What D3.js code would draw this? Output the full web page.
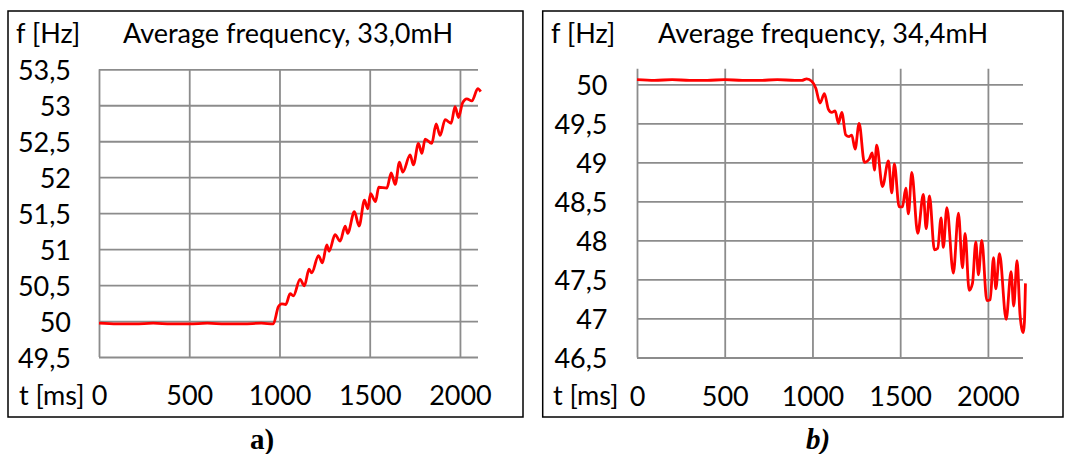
<!DOCTYPE html>
<html><head><meta charset="utf-8">
<script src="https://cdn.jsdelivr.net/npm/d3@7/dist/d3.min.js"></script>
<style>html,body{margin:0;padding:0;background:#fff;} svg{display:block;}</style>
</head><body>
<svg id="c" width="1065" height="454"></svg>
<script>
// ---------- DATA ----------
const titleA = "Average frequency, 33,0mH";
const titleB = "Average frequency, 34,4mH";
const captionA = "a)";
const captionB = "b)";
const yUnit = "f [Hz]";
const xUnit = "t [ms]";

const xTicksA = [0, 500, 1000, 1500, 2000];
const yTicksA = [49.5, 50, 50.5, 51, 51.5, 52, 52.5, 53, 53.5];
const xTicksB = [0, 500, 1000, 1500, 2000];
const yTicksB = [46.5, 47, 47.5, 48, 48.5, 49, 49.5, 50];

const tA = [0,100,200,300,400,500,600,700,800,900,966,994,1013,1035,1059,1077,1114,1138,1164,1179,1216,1238,1262,1275,1308,1336,1364,1378,1415,1441,1471,1489,1505,1532,1550,1595,1619,1641,1665,1683,1724,1742,1770,1789,1807,1844,1868,1890,1918,1951,1973,1992,2014,2038,2066,2099,2115];
const fA = [49.97,49.96,49.96,49.97,49.96,49.96,49.97,49.96,49.96,49.97,49.96,50.20,50.24,50.23,50.38,50.35,50.58,50.49,50.72,50.67,50.91,50.81,51.06,50.97,51.20,51.11,51.32,51.22,51.52,51.32,51.68,51.56,51.77,51.66,51.86,51.85,52.06,51.90,52.21,52.07,52.31,52.17,52.47,52.33,52.53,52.47,52.74,52.58,52.80,52.75,52.98,52.83,53.03,53.09,53.06,53.23,53.19];

const tB = [0,100,200,300,400,500,600,700,800,900,939,967,996,1019,1043,1068,1091,1110,1129,1148,1167,1190,1209,1224,1243,1266,1296,1323,1341,1353,1366,1399,1433,1452,1467,1494,1513,1532,1547,1566,1600,1632,1648,1667,1695,1714,1733,1746,1766,1803,1832,1855,1870,1893,1912,1931,1946,1965,1994,2013,2032,2045,2066,2104,2132,2147,2166,2183,2195,2202,2208,2214];
const fB = [50.06,50.05,50.06,50.05,50.05,50.06,50.05,50.05,50.06,50.05,50.05,50.07,50.04,49.95,49.76,49.88,49.68,49.64,49.66,49.50,49.64,49.35,49.33,49.35,49.17,49.50,49.00,49.04,49.12,48.90,49.22,48.69,49.02,48.61,48.98,48.43,48.43,48.67,48.34,48.87,48.09,48.59,48.15,48.57,47.88,47.90,48.29,47.91,48.42,47.58,48.35,47.65,48.09,47.36,47.45,47.98,47.56,48.00,47.23,47.24,47.78,47.38,47.83,46.99,47.60,47.16,47.74,47.05,46.85,46.82,46.95,47.45];

// ---------- LAYOUT ----------
const FONT = "Lato, 'Open Sans', sans-serif";
const FS = 27;
const panels = [
  { t: tA, f: fA, xT: xTicksA, yT: yTicksA, title: titleA, cap: captionA, capItalic: false,
    frame: [8, 11, 523, 417], px0: 99, px1: 478, pyTop: 69.3, pyBot: 357,
    xDom: [0, 2100], yDom: [49.5, 53.5], titleX: 288, unitX: 16, yLabX: 71, xUnitX: 19, capX: 262 },
  { t: tB, f: fB, xT: xTicksB, yT: yTicksB, title: titleB, cap: captionB, capItalic: true,
    frame: [542.7, 11, 1063, 417], px0: 637, px1: 1023, pyTop: 68.7, pyBot: 357.5,
    xDom: [0, 2200], yDom: [46.5, 50.2], titleX: 823, unitX: 551, yLabX: 607.5, xUnitX: 553, capX: 818 }
];

const svg = d3.select("#c");
const fmt = d => String(d).replace(".", ",");

panels.forEach(p => {
  const g = svg.append("g");
  const [fx0, fy0, fx1, fy1] = p.frame;
  g.append("rect").attr("x", fx0).attr("y", fy0).attr("width", fx1 - fx0).attr("height", fy1 - fy0)
    .attr("fill", "none").attr("stroke", "#000").attr("stroke-width", 1.5);

  const x = d3.scaleLinear().domain(p.xDom).range([p.px0, p.px1]);
  const y = d3.scaleLinear().domain(p.yDom).range([p.pyBot, p.pyTop]);

  // vertical gridlines
  const gx = g.append("g").attr("transform", `translate(0,${p.pyBot})`)
    .call(d3.axisBottom(x).tickValues(p.xT).tickSize(-(p.pyBot - p.pyTop)).tickFormat(fmt).tickPadding(0));
  gx.select(".domain").remove();
  gx.selectAll(".tick line").attr("stroke", "#8c8c8c").attr("stroke-width", 1.8);
  gx.selectAll(".tick text").attr("y", 48).attr("dy", 0).attr("font-family", FONT).attr("font-size", FS).attr("fill", "#000");

  // horizontal gridlines
  const gy = g.append("g").attr("transform", `translate(${p.px0},0)`)
    .call(d3.axisLeft(y).tickValues(p.yT).tickSize(-(p.px1 - p.px0)).tickFormat(fmt).tickPadding(0));
  gy.select(".domain").remove();
  gy.selectAll(".tick line").attr("stroke", "#8c8c8c").attr("stroke-width", 1.8);
  gy.selectAll(".tick text").attr("x", p.yLabX - p.px0).attr("dy", 10).attr("font-family", FONT).attr("font-size", FS).attr("fill", "#000");
  g.selectAll(".tick").attr("font-family", null).attr("font-size", null);

  // line
  const data = p.t.map((t, i) => [t, p.f[i]]);
  g.append("path").datum(data)
    .attr("d", d3.line().x(d => x(d[0])).y(d => y(d[1])).curve(d3.curveMonotoneX))
    .attr("fill", "none").attr("stroke", "#ff0000").attr("stroke-width", 2.8).attr("stroke-linejoin", "round");

  // texts
  const txt = (s, xx, yy, anchor) => g.append("text").attr("x", xx).attr("y", yy).attr("text-anchor", anchor)
    .attr("font-family", FONT).attr("font-size", FS).attr("fill", "#000").text(s);
  txt(p.title, p.titleX, 43, "middle");
  txt(yUnit, p.unitX, 43, "start");
  txt(xUnit, p.xUnitX, 405, "start");

  g.append("text").attr("x", p.capX).attr("y", 449).attr("text-anchor", "middle")
    .attr("font-family", "'Liberation Serif', 'Times New Roman', serif").attr("font-weight", "bold")
    .attr("font-style", p.capItalic ? "italic" : "normal").attr("font-size", 29).attr("fill", "#000").text(p.cap);
});
</script>
</body></html>
